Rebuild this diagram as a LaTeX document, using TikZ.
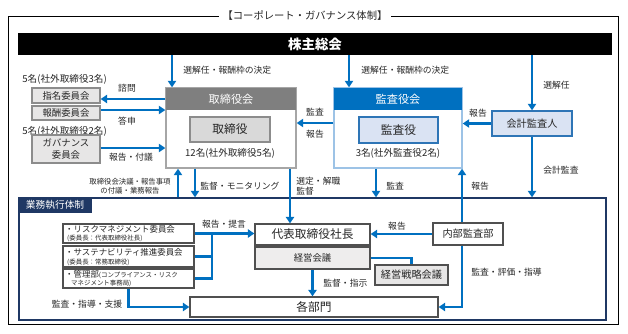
\documentclass[tikz,border=0pt]{standalone}
\usepackage{fontspec}
\setmainfont{Noto Sans CJK JP}
\usetikzlibrary{arrows.meta}

\definecolor{arrblue}{HTML}{0070C0}
\definecolor{boardgray}{HTML}{7F7F7F}
\definecolor{boardline}{HTML}{A6A6A6}
\definecolor{dirgray}{HTML}{D9D9D9}
\definecolor{dirline}{HTML}{8C8C8C}
\definecolor{auditline}{HTML}{9DC3E6}
\definecolor{auditfill}{HTML}{DAE3F3}
\definecolor{auditdark}{HTML}{2E75B6}
\definecolor{execnavy}{HTML}{1F3864}
\definecolor{boxline}{HTML}{505050}
\definecolor{lightfill}{HTML}{E7E6E6}
\definecolor{labeltext}{HTML}{262626}

\begin{document}
\begin{tikzpicture}[
			x=0.3mm, y=-0.3mm,
			every node/.style={inner sep=1pt, text=labeltext},
			wh/.style 2 args={minimum width=#1*0.3mm, minimum height=#2*0.3mm, inner sep=0pt},
			arr/.style={draw=arrblue, line width=2pt, -{Triangle[length=5.5pt,width=7pt]}},
			link/.style={draw=arrblue, line width=2pt},
			lbl/.style={font=\fontsize{7.5}{9}\selectfont},
			countlbl/.style={font=\fontsize{8.2}{9.5}\selectfont},
			smalllbl/.style={font=\fontsize{6.3}{7.4}\selectfont},
			listmain/.style={anchor=west, inner sep=0pt, font=\fontsize{7.2}{8}\selectfont},
			listsub/.style={anchor=west, inner sep=0pt, font=\fontsize{5.5}{6.5}\selectfont},
			graybox/.style={draw=dirline, fill=lightfill, line width=1.1pt, font=\fontsize{8}{9.6}\selectfont},
			execbox/.style={draw=boxline, fill=white, line width=1.1pt},
			line cap=butt,
			line join=miter
			]
			\useasboundingbox (0,0) rectangle (628,333);
			
			% outer frame and title
			\draw[line width=0.8pt] (8,16) rectangle (618,324);
			\node[fill=white, inner xsep=3pt, font=\fontsize{8.8}{10}\selectfont] (title) at (305,16) {【コーポレート・ガバナンス体制】};
			
			% shareholders meeting
			\node[fill=black, wh={594}{22}, text=white, font=\bfseries\fontsize{11.5}{13}\selectfont] (meeting) at (315,44) {株主総会};
			
			% board of directors
			\node[draw=boardline, fill=white, line width=1.2pt, wh={130}{80}] (board) at (231,128) {};
			\node[fill=boardgray, wh={130}{22}, text=white, font=\fontsize{9.5}{11}\selectfont] (boardhead) at (231,99) {取締役会};
			\node[draw=dirline, fill=dirgray, line width=1.2pt, wh={80}{25}, font=\fontsize{10}{12}\selectfont] (director) at (230,129.5) {取締役};
			\node[countlbl] (boardcount) at (230,153) {12名(社外取締役5名)};
			
			% audit & supervisory board
			\node[draw=auditline, fill=white, line width=1.2pt, wh={128}{80}] (audit) at (398,128) {};
			\node[fill=arrblue, wh={128}{22}, text=white, font=\fontsize{9.5}{11}\selectfont] (audithead) at (398,99) {監査役会};
			\node[draw=auditdark, fill=auditfill, line width=1.2pt, wh={79}{26}, font=\fontsize{10}{12}\selectfont] (auditor) at (398.5,130) {監査役};
			\node[countlbl] (auditcount) at (398,153) {3名(社外監査役2名)};
			
			% accounting auditor
			\node[draw=auditdark, fill=auditfill, line width=1.2pt, wh={80}{25}, font=\fontsize{8.7}{10}\selectfont] (accountant) at (532,123.5) {会計監査人};
			
			% committees
			\node[countlbl, anchor=west] (count3) at (21,79) {5名(社外取締役3名)};
			\node[graybox, wh={68}{15}] (nomination) at (66,95.5) {指名委員会};
			\node[graybox, wh={68}{14}] (remuneration) at (66,113) {報酬委員会};
			\node[countlbl, anchor=west] (count2) at (21,131) {5名(社外取締役2名)};
			\node[graybox, wh={68}{28}, align=center] (governance) at (66,149) {ガバナンス\\委員会};
			
			% arrows from the meeting
			\draw[arr] (meeting.south -| 172,0) -- (board.north -| 172,0);
			\draw[arr] (meeting.south -| 349,0) -- (audit.north -| 349,0);
			\draw[arr] (meeting.south -| accountant.north) -- (accountant.north);
			\node[lbl, anchor=west] (elect1) at (182,70) {選解任・報酬枠の決定};
			\node[lbl, anchor=west] (elect2) at (360,70) {選解任・報酬枠の決定};
			\node[lbl, anchor=west] (elect3) at (542,85) {選解任};
			
			% arrows between boards
			\draw[arr] (accountant.west) -- (audit.east |- accountant.west);
			\node[lbl] (rep1) at (478,113) {報告};
			\draw[arr] (audit.west |- 0,123) -- (board.east |- 0,123);
			\node[lbl] (aud1) at (315,112) {監査};
			\node[lbl] (rep2) at (315,134) {報告};
			
			% arrows to committees
			\draw[arr] (board.west |- 0,99) -- (nomination.east |- 0,99);
			\draw[arr] (remuneration.east |- 0,110) -- (board.west |- 0,110);
			\draw[arr] (governance.east |- 0,148) -- (board.west |- 0,148);
			\node[lbl] (consult) at (127,88) {諮問};
			\node[lbl] (answer) at (127,121) {答申};
			\node[lbl] (report3) at (131,157) {報告・付議};
			
			% business execution frame
			\node[draw=execnavy, line width=1.2pt, wh={587}{122}] (exec) at (312.5,259) {};
			\node[fill=execnavy, anchor=north west, wh={73}{15}, text=white, font=\fontsize{8.3}{10}\selectfont] (exectab) at (exec.north west) {業務執行体制};
			
			% execution boxes
			\node[execbox, wh={115}{21}, font=\fontsize{10}{12}\selectfont] (president) at (312.5,234.5) {代表取締役社長};
			\node[execbox, fill=lightfill!70, wh={115}{22}, font=\fontsize{8}{9.6}\selectfont] (mgmt) at (312.5,258) {経営会議};
			\node[execbox, fill=lightfill, wh={73}{20}, font=\fontsize{8.7}{10}\selectfont] (strategy) at (411.5,275) {経営戦略会議};
			\node[execbox, wh={70}{22}, font=\fontsize{8.7}{10}\selectfont] (internal) at (468,234) {内部監査部};
			\node[execbox, wh={248}{20}, font=\fontsize{10}{12}\selectfont] (depts) at (314,307) {各部門};
			
			% committees under the president
			\node[execbox, wh={131}{19}] (risk) at (128.5,233.5) {};
			\node[listmain] (riskname) at (65,229.5) {・リスクマネジメント委員会};
			\node[listsub] (riskchair) at (67,238.5) {(委員長：代表取締役社長)};
			\node[execbox, wh={131}{21}] (sustain) at (128.5,256.5) {};
			\node[listmain] (sustainname) at (65,252.5) {・サステナビリティ推進委員会};
			\node[listsub] (sustainchair) at (67,262) {(委員長：常務取締役)};
			\node[execbox, wh={131}{19}] (admin) at (128.5,278.5) {};
			\node[listmain] (adminname) at (65,274.5) {・管理部{\fontsize{5.5}{6.5}\selectfont(コンプライアンス・リスク}};
			\node[listsub] (adminsub) at (71,283.5) {マネジメント事務局)};
			
			% arrows across the execution frame
			\draw[arr] (exec.north -| 178,0) -- (board.south -| 178,0);
			\draw[arr] (board.south -| 195,0) -- (exec.north -| 195,0);
			\draw[arr] (board.south -| 290,0) -- (president.north -| 290,0);
			\draw[arr] (audit.south -| 376,0) -- (exec.north -| 376,0);
			\draw[arr] (internal.north -| 462,0) -- (audit.south -| 462,0);
			\draw[arr] (accountant.south) -- (exec.north -| accountant.south);
			\node[smalllbl, align=center] (boardrep) at (130,186) {取締役会決議・報告事項\\の付議・業務報告};
			\node[lbl, anchor=west] (monitor) at (199,186) {監督・モニタリング};
			\node[lbl, anchor=west, align=left] (appoint) at (295,186) {選定・解職\\監督};
			\node[lbl, anchor=west] (aud2) at (385,186) {監査};
			\node[lbl, anchor=west] (rep4) at (470,186) {報告};
			\node[lbl, anchor=west] (acctaudit) at (542,170) {会計監査};
			
			% arrows inside the execution frame
			\coordinate (join) at (212,256);
			\draw[link] (sustain.east) -- (sustain.east -| join);
			\draw[link] (admin.east) -| (join) |- (risk.east);
			\draw[arr] (risk.east) -- (president.west |- risk.east);
			\node[lbl] (propose) at (224,224) {報告・提言};
			
			\draw[arr] (admin.south) |- (depts.west);
			\node[lbl] (support) at (87,304) {監査・指導・支援};
			
			\draw[arr] (mgmt.south) -- (depts.north -| mgmt.south);
			\node[lbl, anchor=west] (direct) at (322,283) {監督・指示};
			
			\draw[link] (mgmt.east) -| (strategy.north);
			
			\draw[arr] (internal.west) -- (president.east |- internal.west);
			\node[lbl] (rep5) at (397,226) {報告};
			
			\draw[arr] (internal.south -| 462,0) |- (depts.east);
			\node[lbl, anchor=west] (evaluate) at (470,272) {監査・評価・指導};
		\end{tikzpicture}
\end{document}
